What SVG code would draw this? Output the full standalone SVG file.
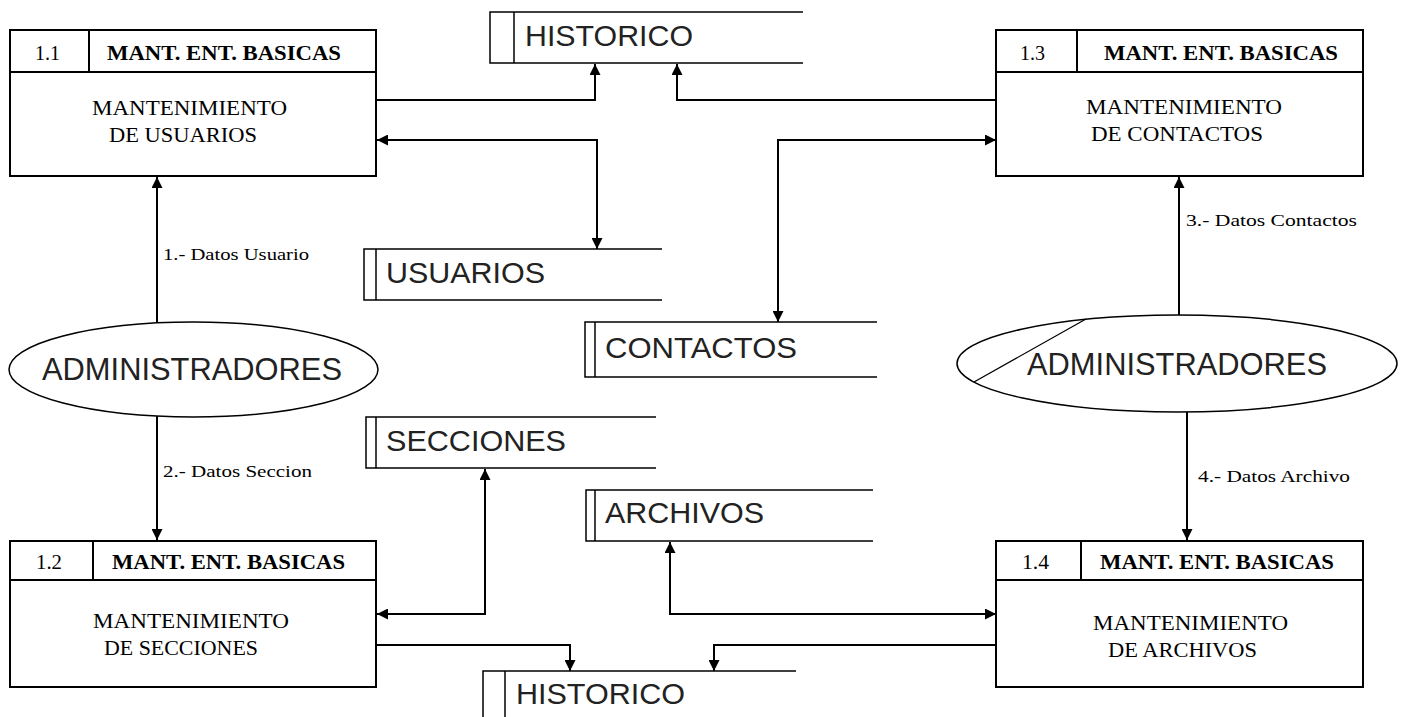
<svg xmlns="http://www.w3.org/2000/svg" width="1403" height="717" viewBox="0 0 1403 717">
<defs>
<marker id="ah" viewBox="0 0 10 10" refX="10" refY="5" markerWidth="11" markerHeight="11" markerUnits="userSpaceOnUse" orient="auto-start-reverse">
<path d="M0,0 L10,5 L0,10 z" fill="#000"/>
</marker>
<style>
.box{fill:#fff;stroke:#000;stroke-width:2}
.ln{fill:none;stroke:#000;stroke-width:2}
.st{fill:none;stroke:#000;stroke-width:1.5}
.el{fill:#fff;stroke:#000;stroke-width:1.5}
.num{font-family:"Liberation Serif",serif;font-size:20px;fill:#000}
.hdr{font-family:"Liberation Serif",serif;font-size:22px;font-weight:bold;fill:#000}
.body{font-family:"Liberation Serif",serif;font-size:22px;fill:#000}
.lbl{font-family:"Liberation Serif",serif;font-size:17px;fill:#000}
.big{font-family:"Liberation Sans",Arial,sans-serif;font-size:30px;fill:#222}
.ent{font-family:"Liberation Sans",Arial,sans-serif;font-size:31px;fill:#222}
.c{stroke:#000;stroke-width:2;fill:none}
</style>
</defs>
<rect width="1403" height="717" fill="#fff"/>

<g id="connectors">
<path class="c" d="M376 100 H595 V64" marker-end="url(#ah)"/>
<path class="c" d="M996 100 H677 V64" marker-end="url(#ah)"/>
<path class="c" d="M377 140 H597 V249" marker-start="url(#ah)" marker-end="url(#ah)"/>
<path class="c" d="M778 322 V140 H996" marker-start="url(#ah)" marker-end="url(#ah)"/>
<path class="c" d="M157 323 V177" marker-end="url(#ah)"/>
<path class="c" d="M157 416 V540" marker-end="url(#ah)"/>
<path class="c" d="M1179 315 V177" marker-end="url(#ah)"/>
<path class="c" d="M1187 412 V540" marker-end="url(#ah)"/>
<path class="c" d="M485 469 V614 H377" marker-start="url(#ah)" marker-end="url(#ah)"/>
<path class="c" d="M670 542 V614 H996" marker-start="url(#ah)" marker-end="url(#ah)"/>
<path class="c" d="M376 645 H570 V671" marker-end="url(#ah)"/>
<path class="c" d="M996 645 H714 V671" marker-end="url(#ah)"/>
</g>

<g id="p11">
<rect class="box" x="10" y="30" width="366" height="146"/>
<line class="ln" x1="10" y1="72" x2="376" y2="72"/>
<line class="ln" x1="89" y1="30" x2="89" y2="72"/>
<text class="num" x="35" y="60" textLength="25" lengthAdjust="spacingAndGlyphs">1.1</text>
<text class="hdr" x="107" y="60" textLength="234" lengthAdjust="spacingAndGlyphs">MANT. ENT. BASICAS</text>
<text class="body" x="92" y="115" textLength="195" lengthAdjust="spacingAndGlyphs">MANTENIMIENTO</text>
<text class="body" x="109" y="142" textLength="148" lengthAdjust="spacingAndGlyphs">DE USUARIOS</text>
</g>

<g id="p13">
<rect class="box" x="996" y="30" width="367" height="146"/>
<line class="ln" x1="996" y1="72" x2="1363" y2="72"/>
<line class="ln" x1="1077" y1="30" x2="1077" y2="72"/>
<text class="num" x="1020" y="60" textLength="25" lengthAdjust="spacingAndGlyphs">1.3</text>
<text class="hdr" x="1104" y="60" textLength="234" lengthAdjust="spacingAndGlyphs">MANT. ENT. BASICAS</text>
<text class="body" x="1086" y="114" textLength="196" lengthAdjust="spacingAndGlyphs">MANTENIMIENTO</text>
<text class="body" x="1091" y="141" textLength="172" lengthAdjust="spacingAndGlyphs">DE CONTACTOS</text>
</g>

<g id="p12">
<rect class="box" x="10" y="541" width="366" height="146"/>
<line class="ln" x1="10" y1="580" x2="376" y2="580"/>
<line class="ln" x1="93" y1="541" x2="93" y2="580"/>
<text class="num" x="36" y="569" textLength="26" lengthAdjust="spacingAndGlyphs">1.2</text>
<text class="hdr" x="112" y="569" textLength="233" lengthAdjust="spacingAndGlyphs">MANT. ENT. BASICAS</text>
<text class="body" x="93" y="628" textLength="196" lengthAdjust="spacingAndGlyphs">MANTENIMIENTO</text>
<text class="body" x="104" y="655" textLength="154" lengthAdjust="spacingAndGlyphs">DE SECCIONES</text>
</g>

<g id="p14">
<rect class="box" x="996" y="541" width="367" height="146"/>
<line class="ln" x1="996" y1="580" x2="1363" y2="580"/>
<line class="ln" x1="1081" y1="541" x2="1081" y2="580"/>
<text class="num" x="1022" y="569" textLength="27" lengthAdjust="spacingAndGlyphs">1.4</text>
<text class="hdr" x="1100" y="569" textLength="234" lengthAdjust="spacingAndGlyphs">MANT. ENT. BASICAS</text>
<text class="body" x="1093" y="630" textLength="195" lengthAdjust="spacingAndGlyphs">MANTENIMIENTO</text>
<text class="body" x="1108" y="657" textLength="149" lengthAdjust="spacingAndGlyphs">DE ARCHIVOS</text>
</g>

<g id="historico_top">
<path class="st" d="M803 12 H490 V63 H803"/>
<line class="st" x1="514" y1="12" x2="514" y2="63"/>
<text class="big" x="525" y="46" textLength="168" lengthAdjust="spacingAndGlyphs">HISTORICO</text>
</g>

<g id="usuarios">
<path class="st" d="M662 249 H364 V300 H662"/>
<line class="st" x1="376" y1="249" x2="376" y2="300"/>
<text class="big" x="386" y="283" textLength="159" lengthAdjust="spacingAndGlyphs">USUARIOS</text>
</g>

<g id="contactos">
<path class="st" d="M877 322 H585 V377 H877"/>
<line class="st" x1="595" y1="322" x2="595" y2="377"/>
<text class="big" x="605" y="358" textLength="192" lengthAdjust="spacingAndGlyphs">CONTACTOS</text>
</g>

<g id="secciones">
<path class="st" d="M656 417 H366 V468 H656"/>
<line class="st" x1="376" y1="417" x2="376" y2="468"/>
<text class="big" x="386" y="451" textLength="180" lengthAdjust="spacingAndGlyphs">SECCIONES</text>
</g>

<g id="archivos">
<path class="st" d="M873 490 H586 V541 H873"/>
<line class="st" x1="595" y1="490" x2="595" y2="541"/>
<text class="big" x="605" y="523" textLength="159" lengthAdjust="spacingAndGlyphs">ARCHIVOS</text>
</g>

<g id="historico_bottom">
<path class="st" d="M796 671 H483 V720"/>
<line class="st" x1="505" y1="671" x2="505" y2="720"/>
<text class="big" x="516" y="704" textLength="169" lengthAdjust="spacingAndGlyphs">HISTORICO</text>
</g>

<g id="admin_left">
<ellipse class="el" cx="193.5" cy="369.5" rx="184.5" ry="47.5"/>
<text class="ent" x="42" y="380" textLength="300" lengthAdjust="spacingAndGlyphs">ADMINISTRADORES</text>
</g>

<g id="admin_right">
<ellipse class="el" cx="1177" cy="363.5" rx="220" ry="48.5"/>
<line x1="974" y1="382" x2="1086" y2="319" stroke="#000" stroke-width="1.3"/>
<text class="ent" x="1027" y="375" textLength="300" lengthAdjust="spacingAndGlyphs">ADMINISTRADORES</text>
</g>

<g id="labels">
<text class="lbl" x="163" y="260" textLength="146" lengthAdjust="spacingAndGlyphs">1.- Datos Usuario</text>
<text class="lbl" x="163" y="477" textLength="149" lengthAdjust="spacingAndGlyphs">2.- Datos Seccion</text>
<text class="lbl" x="1186" y="226" textLength="171" lengthAdjust="spacingAndGlyphs">3.- Datos Contactos</text>
<text class="lbl" x="1198" y="482" textLength="152" lengthAdjust="spacingAndGlyphs">4.- Datos Archivo</text>
</g>
</svg>
